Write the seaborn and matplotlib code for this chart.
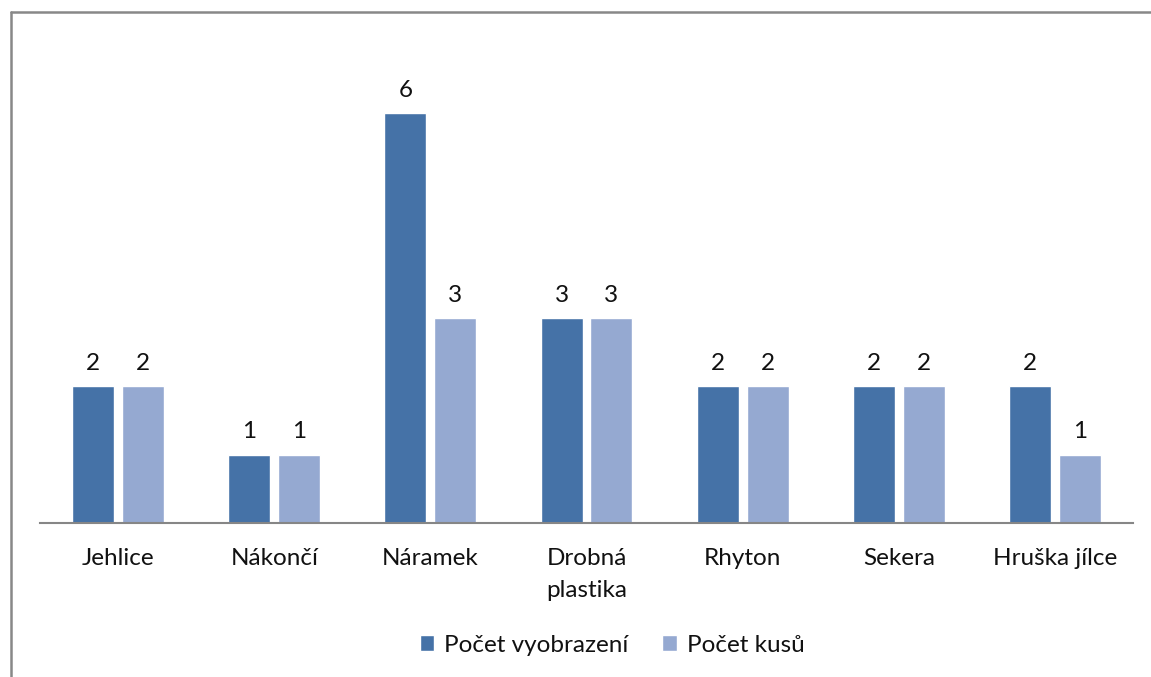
import pandas as pd
import seaborn as sns
import matplotlib.pyplot as plt
from matplotlib.lines import Line2D

# data
categories = ["Jehlice", "Nákončí", "Náramek", "Drobná\nplastika", "Rhyton", "Sekera", "Hruška jílce"]
pocet_vyobrazeni = [2, 1, 6, 3, 2, 2, 2]
pocet_kusu = [2, 1, 3, 3, 2, 2, 1]
series_names = ["Počet vyobrazení", "Počet kusů"]

df = pd.DataFrame({
    "kategorie": categories * 2,
    "pocet": pocet_vyobrazeni + pocet_kusu,
    "serie": [series_names[0]] * len(categories) + [series_names[1]] * len(categories),
})

sns.set_theme(style="white")
plt.rcParams["font.family"] = ["Lato", "DejaVu Sans"]

W, H = 1151, 677
FS = 17.5
fig = plt.figure(figsize=(W / 100, H / 100), dpi=100)
ax = fig.add_axes([40 / W, 1 - 523 / H, (1133 - 40) / W, (523 - 45) / H])

sns.barplot(
    data=df, x="kategorie", y="pocet", hue="serie", order=categories,
    hue_order=series_names, palette=["#4572A7", "#95A9D1"],
    width=0.64, gap=0.16, ax=ax, legend=True, saturation=1,
)

for c in ax.containers:
    ax.bar_label(c, padding=9, fontsize=FS, color="#111111")

ax.set_ylim(0, 7)
ax.set_xlim(-0.5, len(categories) - 0.5)
ax.set_xlabel("")
ax.set_ylabel("")
ax.set_yticks([])
ax.tick_params(axis="x", length=0, pad=18, labelsize=FS, colors="#111111")
for lbl in ax.get_xticklabels():
    lbl.set_linespacing(1.65)
    lbl.set_verticalalignment("top")
for s in ["top", "right", "left"]:
    ax.spines[s].set_visible(False)
ax.spines["bottom"].set_color("#868686")
ax.spines["bottom"].set_linewidth(1.5)

handles, labels = ax.get_legend_handles_labels()
ax.legend_.remove()
fig.legend(
    handles, labels, loc="center", bbox_to_anchor=(612 / W, 1 - 645 / H),
    ncol=2, frameon=False, fontsize=FS, handlelength=0.6, handleheight=0.6,
    handletextpad=0.4, columnspacing=1.4, labelcolor="#111111",
)

# outer frame (only top and left visible)
fig.add_artist(Line2D([11 / W, 11 / W], [0, 1 - 12 / H], color="#888888", lw=1.8))
fig.add_artist(Line2D([11 / W, 1], [1 - 12 / H, 1 - 12 / H], color="#888888", lw=1.8))

fig.savefig("out.png", dpi=100)
